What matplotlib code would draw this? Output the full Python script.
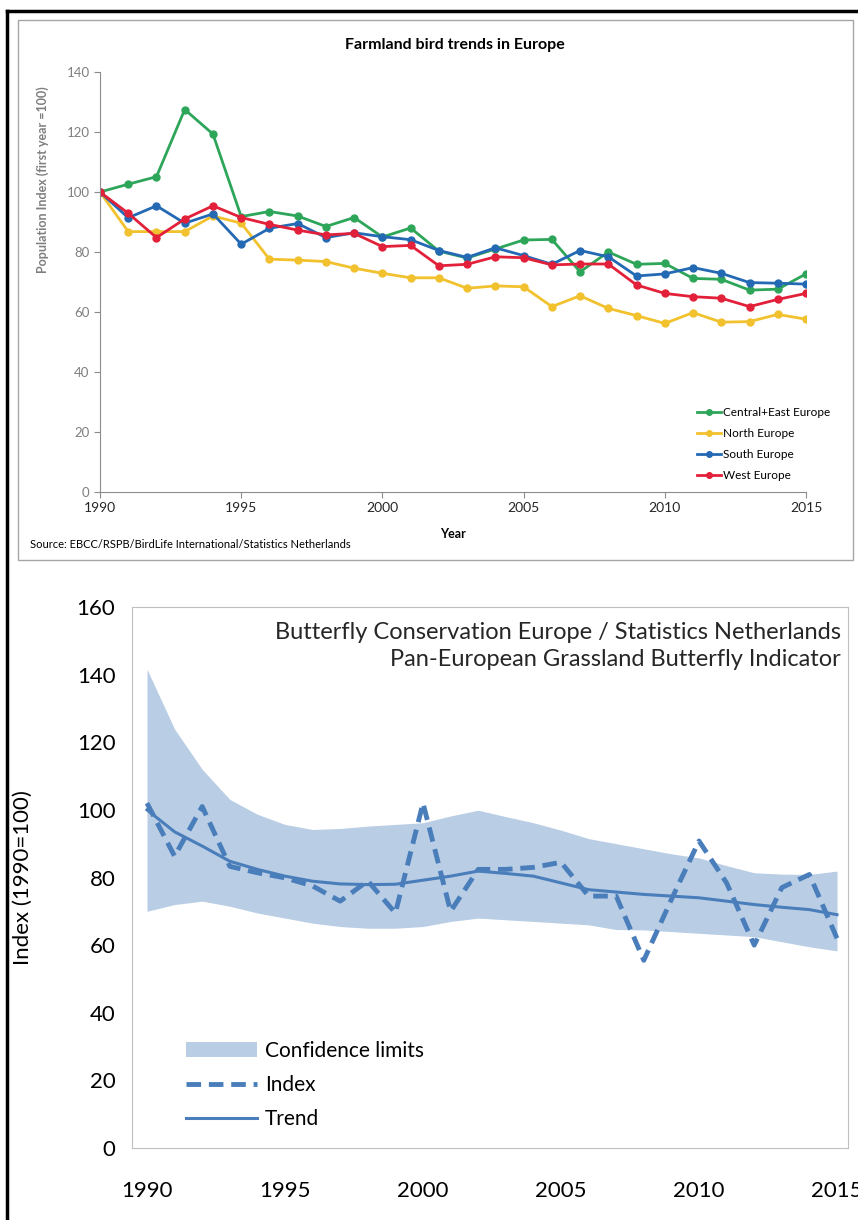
import numpy as np
import matplotlib
matplotlib.use("Agg")
import matplotlib.pyplot as plt
from matplotlib.patches import Rectangle
from matplotlib.lines import Line2D

plt.rcParams['font.family'] = ['Lato', 'DejaVu Sans']

# --- farmland birds (top chart) ---
years = list(range(1990, 2016))
central_east = [100, 102.6, 105.1, 127.5, 119.3, 91.8, 93.5, 92.0, 88.5, 91.5, 85.0, 88.0,
                80.3, 78.0, 81.0, 84.0, 84.2, 73.4, 80.0, 75.9, 76.2, 71.2, 70.9, 67.3, 67.6, 72.7]
north = [100, 86.8, 86.8, 86.8, 92.0, 89.6, 77.6, 77.3, 76.8, 74.6, 72.9, 71.4,
         71.4, 67.9, 68.7, 68.4, 61.8, 65.4, 61.2, 58.8, 56.2, 59.8, 56.6, 56.8, 59.2, 57.6]
south = [100, 91.4, 95.4, 89.6, 92.7, 82.6, 87.9, 89.5, 84.8, 86.4, 85.1, 84.1,
         80.5, 78.2, 81.4, 78.8, 75.9, 80.5, 78.4, 72.0, 72.7, 74.8, 72.9, 69.8, 69.6, 69.3]
west = [100, 92.9, 84.8, 91.0, 95.4, 91.5, 89.2, 87.3, 85.7, 86.2, 81.8, 82.2,
        75.4, 75.9, 78.4, 78.1, 75.7, 76.0, 76.0, 69.0, 66.2, 65.1, 64.6, 61.8, 64.2, 66.2]
bird_series = [("Central+East Europe", central_east, "#2ea65a"),
               ("North Europe", north, "#f2c12e"),
               ("South Europe", south, "#2469b3"),
               ("West Europe", west, "#e3203a")]

# --- grassland butterflies (bottom chart) ---
bf_index = [102, 86.3, 101, 83.3, 81.4, 79.9, 77.5, 73, 79, 69.5, 102, 70, 82.4,
            82.4, 83, 84.5, 74.5, 74.5, 55.5, 73.5, 90.8, 78.4, 60, 77, 80.9, 62]
bf_trend = [100, 93.5, 89.3, 84.8, 82.4, 80.4, 78.9, 78.1, 77.9, 78.0, 79.2, 80.4, 81.9,
            81.2, 80.4, 78.4, 76.4, 75.7, 75.0, 74.5, 74.0, 73.0, 72.0, 71.2, 70.5, 69.0]
bf_upper = [141.6, 123.9, 112, 103.1, 98.7, 95.7, 94.2, 94.5, 95.2, 95.7, 96.2, 98.2, 99.9,
            98, 96.2, 94, 91.5, 90, 88.5, 87, 85.8, 83.5, 81.4, 81, 80.9, 81.9]
bf_lower = [70, 72, 73, 71.5, 69.5, 68, 66.5, 65.5, 65, 65, 65.5, 67, 68,
            67.5, 67, 66.5, 66, 64.6, 64.5, 64, 63.5, 63, 62.5, 61, 59.5, 58.3]

W, H = 858, 1220
fig = plt.figure(figsize=(W / 100, H / 100), dpi=100)

def box(x0, y0, x1, y1):
    # pixel box (top-left origin) -> figure fraction rect
    return [x0 / W, 1 - y1 / H, (x1 - x0) / W, (y1 - y0) / H]

# outer black frame lines and top-chart grey box
fig.add_artist(Line2D([7 / W, 7 / W], [0, 1 - 11 / H], color="black", lw=2.5))
fig.add_artist(Line2D([7 / W, 1], [1 - 11 / H, 1 - 11 / H], color="black", lw=2.5))
fig.add_artist(Rectangle((18 / W, 1 - 560 / H), (853 - 18) / W, (560 - 20) / H,
                         transform=fig.transFigure, fill=False, ec="#a6a6a6", lw=1))

# ---------------- top chart ----------------
ax1 = fig.add_axes(box(100, 72, 806, 492))
for name, vals, col in bird_series:
    ax1.plot(years, vals, color=col, lw=2, marker="o", ms=5, label=name)
ax1.set_xlim(1990, 2015)
ax1.set_ylim(0, 140)
ax1.set_xticks(range(1990, 2016, 5))
ax1.set_yticks(range(0, 141, 20))
for s in ["top", "right"]:
    ax1.spines[s].set_visible(False)
for s in ["left", "bottom"]:
    ax1.spines[s].set_color("#8c8c8c")
ax1.tick_params(axis="y", colors="#8c8c8c", labelsize=9.5, length=4, labelcolor="#7f7f7f")
ax1.tick_params(axis="x", colors="#8c8c8c", labelsize=10, length=4, labelcolor="#262626")
ax1.set_ylabel("Population Index (first year =100)", fontsize=9, fontweight="bold",
               color="#7f7f7f")
ax1.yaxis.set_label_coords(-0.072, 0.743)
ax1.set_xlabel("Year", fontsize=9, fontweight="bold", labelpad=10)
fig.text(455 / W, 1 - 45 / H, "Farmland bird trends in Europe", ha="center", va="center",
         fontsize=11.5, fontweight="bold")
fig.text(30 / W, 1 - 544 / H, "Source: EBCC/RSPB/BirdLife International/Statistics Netherlands",
         ha="left", va="center", fontsize=8)
leg1 = ax1.legend(loc="lower left", bbox_to_anchor=(0.83, 0.0), fontsize=8.5, frameon=False,
                  handlelength=2.1, handletextpad=0.15, labelspacing=0.86, markerscale=0.8)

# ---------------- bottom chart ----------------
px_year = 27.6
x_left = 1990 - (147 - 132) / px_year
x_right = 1990 + (848 - 147) / px_year
ax2 = fig.add_axes(box(132, 607, 848, 1148))
ax2.fill_between(years, bf_lower, bf_upper, color="#b9cde5", lw=0, label="Confidence limits")
ax2.plot(years, bf_index, color="#4a7ebb", lw=3.5, ls=(0, (3, 1.6)), label="Index")
ax2.plot(years, bf_trend, color="#4a7ebb", lw=2.2, label="Trend")
ax2.set_xlim(x_left, x_right)
ax2.set_ylim(0, 160)
ax2.set_xticks(range(1990, 2016, 5))
ax2.set_yticks(range(0, 161, 20))
for s in ax2.spines.values():
    s.set_color("#bfbfbf")
ax2.tick_params(axis="x", length=0, pad=24, labelsize=16)
ax2.tick_params(axis="y", length=0, pad=12, labelsize=16)
ax2.set_ylabel("Index (1990=100)", fontsize=16)
ax2.yaxis.set_label_coords(-0.138, 0.5)
ax2.text(0.99, 0.972, "Butterfly Conservation Europe / Statistics Netherlands\n"
         "Pan-European Grassland Butterfly Indicator", transform=ax2.transAxes,
         ha="right", va="top", fontsize=17, color="#262626", linespacing=1.35)
ax2.legend(loc="lower left", bbox_to_anchor=(0.049, 0.0), fontsize=15, frameon=False,
           handlelength=3.4, handletextpad=0.4, labelspacing=0.68)

fig.savefig("out.png", dpi=100)
